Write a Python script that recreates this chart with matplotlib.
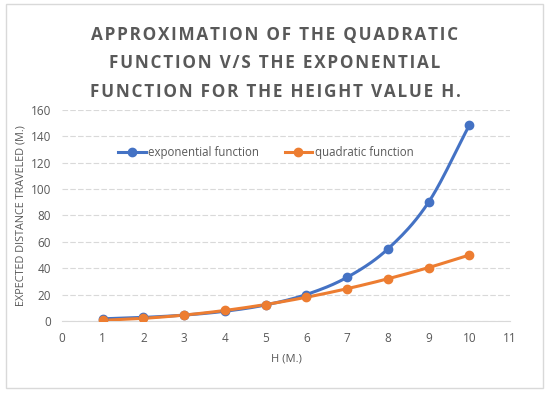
import numpy as np
import matplotlib
matplotlib.use("Agg")
import matplotlib.pyplot as plt
from matplotlib.patches import Rectangle

h = [1, 2, 3, 4, 5, 6, 7, 8, 9, 10]
exponential = [1.65, 2.72, 4.48, 7.39, 12.18, 20.09, 33.12, 54.6, 90.02, 148.41]
quadratic = [0.5, 2, 4.5, 8, 12.5, 18, 24.5, 32, 40.5, 50]
xticks = list(range(0, 12))
yticks = list(range(0, 161, 20))

BLUE = "#4472C4"
ORANGE = "#ED7D31"
GRAY = "#595959"

plt.rcParams['font.family'] = ['Open Sans', 'DejaVu Sans']


def smooth(x, y, n=20):
    x = np.asarray(x, float); y = np.asarray(y, float)
    px = np.concatenate([[2 * x[0] - x[1]], x, [2 * x[-1] - x[-2]]])
    py = np.concatenate([[2 * y[0] - y[1]], y, [2 * y[-1] - y[-2]]])
    xs, ys = [], []
    for i in range(1, len(px) - 2):
        t = np.linspace(0, 1, n, endpoint=False)
        for arr, out in ((px, xs), (py, ys)):
            p0, p1, p2, p3 = arr[i - 1], arr[i], arr[i + 1], arr[i + 2]
            out.extend(0.5 * ((2 * p1) + (-p0 + p2) * t + (2 * p0 - 5 * p1 + 4 * p2 - p3) * t ** 2
                              + (-p0 + 3 * p1 - 3 * p2 + p3) * t ** 3))
    xs.append(x[-1]); ys.append(y[-1])
    return xs, ys


def spaced(s):
    return "\u200a".join(s)


fig = plt.figure(figsize=(5.5, 3.96), dpi=100)
fig.patches.append(Rectangle((6 / 550, 1 - 388 / 396), 537 / 550, 384 / 396, transform=fig.transFigure,
                             fill=False, edgecolor="#D9D9D9", linewidth=1))
ax = fig.add_axes([62 / 550, 1 - 321 / 396, 448 / 550, 211 / 396])

sx, sy = smooth(h, exponential)
ax.plot(sx, sy, color=BLUE, lw=2.2, zorder=3)
ax.plot(h, exponential, 'o', color=BLUE, ms=6, zorder=4)
qx, qy = smooth(h, quadratic)
ax.plot(qx, qy, color=ORANGE, lw=2.2, zorder=3)
ax.plot(h, quadratic, 'o', color=ORANGE, ms=6, zorder=4)

ax.plot([], [], '-o', color=BLUE, lw=2.2, ms=6, label="exponential function")
ax.plot([], [], '-o', color=ORANGE, lw=2.2, ms=6, label="quadratic function")

ax.set_xlim(0, 11)
ax.set_ylim(0, 160)
ax.set_xticks(xticks)
ax.set_yticks(yticks)
ax.tick_params(length=0, labelsize=8.5, colors=GRAY, pad=8)
ax.grid(axis='y', color="#D9D9D9", linestyle=(0, (5, 2)), lw=0.8)
ax.set_axisbelow(True)
for s in ['top', 'right', 'left']:
    ax.spines[s].set_visible(False)
ax.spines['bottom'].set_color("#D9D9D9")

ax.set_xlabel("H (M.)", fontsize=8, color=GRAY, labelpad=6)
ax.set_ylabel("EXPECTED DISTANCE TRAVELED (M.)", fontsize=7.8, color=GRAY, labelpad=3)

leg = ax.legend(loc='upper center', bbox_to_anchor=(0.455, 0.88), ncol=2, frameon=False,
                fontsize=8.3, handlelength=2.4, columnspacing=2.2, handletextpad=0.2)
for t in leg.get_texts():
    t.set_color(GRAY)

title_lines = ["APPROXIMATION OF THE QUADRATIC",
               "FUNCTION V/S THE EXPONENTIAL",
               "FUNCTION FOR THE HEIGHT VALUE H."]
fig.text(275 / 550, 1 - 63.5 / 396, "\n".join(spaced(l) for l in title_lines),
         ha='center', va='center', fontsize=12.3, fontweight='bold', color=GRAY, linespacing=1.72)

fig.savefig("out.png", dpi=100)
